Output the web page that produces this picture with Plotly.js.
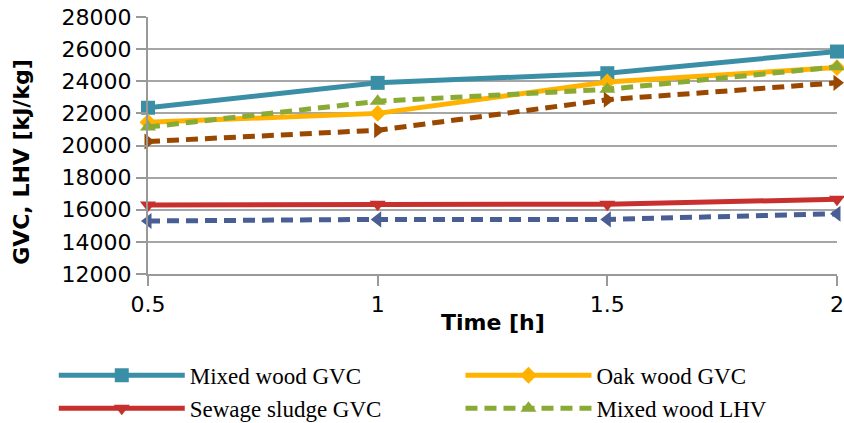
<!DOCTYPE html>
<html>
<head>
<meta charset="utf-8">
<script src="https://cdn.plot.ly/plotly-3.0.1.min.js"></script>
<style>html,body{margin:0;padding:0;background:#fff;}#chart{width:844px;height:423px;}</style>
</head>
<body>
<div id="chart"></div>
<script>
const time = [0.5, 1, 1.5, 2];
const seriesNames = ["Mixed wood GVC", "Oak wood GVC", "Sewage sludge GVC", "Mixed wood LHV", "Oak wood LHV", "Sewage sludge LHV"];
const mixedWoodGVC = [22350, 23900, 24500, 25850];
const oakWoodGVC = [21450, 22000, 23950, 24850];
const sewageSludgeGVC = [16300, 16350, 16350, 16650];
const mixedWoodLHV = [21150, 22750, 23500, 24900];
const oakWoodLHV = [20250, 20950, 22850, 23900];
const sewageSludgeLHV = [15300, 15400, 15400, 15750];
const xTicks = [0.5, 1, 1.5, 2];
const xTickLabels = ["0.5", "1", "1.5", "2"];
const yTicks = [12000, 14000, 16000, 18000, 20000, 22000, 24000, 26000, 28000];
const yTickLabels = ["12000", "14000", "16000", "18000", "20000", "22000", "24000", "26000", "28000"];
const xTitle = "Time [h]";
const yTitle = "GVC, LHV [kJ/kg]";

const values = [mixedWoodGVC, oakWoodGVC, sewageSludgeGVC, mixedWoodLHV, oakWoodLHV, sewageSludgeLHV];
const colors = ["#3A8FA6", "#FFB300", "#C8302E", "#8AAA36", "#9A4700", "#495E95"];
const symbols = ["square", "diamond", "triangle-down", "triangle-up", "triangle-right", "triangle-left"];
const dashed = [false, false, false, true, true, true];
const inLegend = [true, true, true, true, false, false];
const legendIds = ["legend", "legend2", "legend3", "legend4", "legend", "legend"];
const msize = [14, 13, 14, 14, 14, 14];

const traces = values.map((v, i) => ({
  x: time, y: v, name: seriesNames[i], type: "scatter", mode: "lines+markers",
  line: {color: colors[i], width: 5, dash: dashed[i] ? "12px,7px" : "solid"},
  marker: {symbol: symbols[i], size: msize[i], color: colors[i], line: {width: 0}},
  showlegend: inLegend[i], legend: legendIds[i], cliponaxis: false
}));

function legendAt(x, y) {
  return {
    orientation: "h", xref: "container", yref: "container", x: x, y: y,
    xanchor: "left", yanchor: "middle", itemwidth: 126,
    font: {family: "Liberation Serif", size: 23, color: "#000"},
    bgcolor: "rgba(0,0,0,0)"
  };
}

const layout = {
  width: 844, height: 423,
  margin: {l: 148, r: 7, t: 17, b: 149},
  paper_bgcolor: "#fff", plot_bgcolor: "#fff",
  font: {family: "DejaVu Sans", color: "#000", size: 20},
  xaxis: {
    range: [0.5, 2], tickvals: xTicks, ticktext: xTickLabels,
    showgrid: false, zeroline: false, showline: true, linecolor: "#999", linewidth: 2,
    ticks: "outside", ticklen: 10, tickcolor: "#999", tickwidth: 2,
    tickfont: {family: "DejaVu Sans", size: 22}
  },
  yaxis: {
    range: [12000, 28000], tickvals: yTicks, ticktext: yTickLabels,
    showgrid: true, gridcolor: "#A6A6A6", gridwidth: 2, zeroline: false,
    showline: true, linecolor: "#999", linewidth: 2,
    ticks: "outside", ticklen: 10, tickcolor: "#999", tickwidth: 2,
    tickfont: {family: "DejaVu Sans", size: 22}
  },
  annotations: [{
    text: "<b>" + xTitle + "</b>", xref: "paper", yref: "paper", x: 0.5, y: -0.187,
    xanchor: "center", yanchor: "middle", showarrow: false,
    font: {family: "DejaVu Sans", size: 22, color: "#000"}
  }, {
    text: "<b>" + yTitle + "</b>", xref: "paper", yref: "paper", x: -0.183, y: 0.436,
    xanchor: "center", yanchor: "middle", showarrow: false, textangle: -90,
    font: {family: "DejaVu Sans", size: 22, color: "#000"}
  }],
  legend: legendAt(0.0637, 0.1127),
  legend2: legendAt(0.5456, 0.1127),
  legend3: legendAt(0.0637, 0.035),
  legend4: legendAt(0.5456, 0.035)
};

Plotly.newPlot("chart", traces, layout, {displayModeBar: false, staticPlot: true});
</script>
</body>
</html>
